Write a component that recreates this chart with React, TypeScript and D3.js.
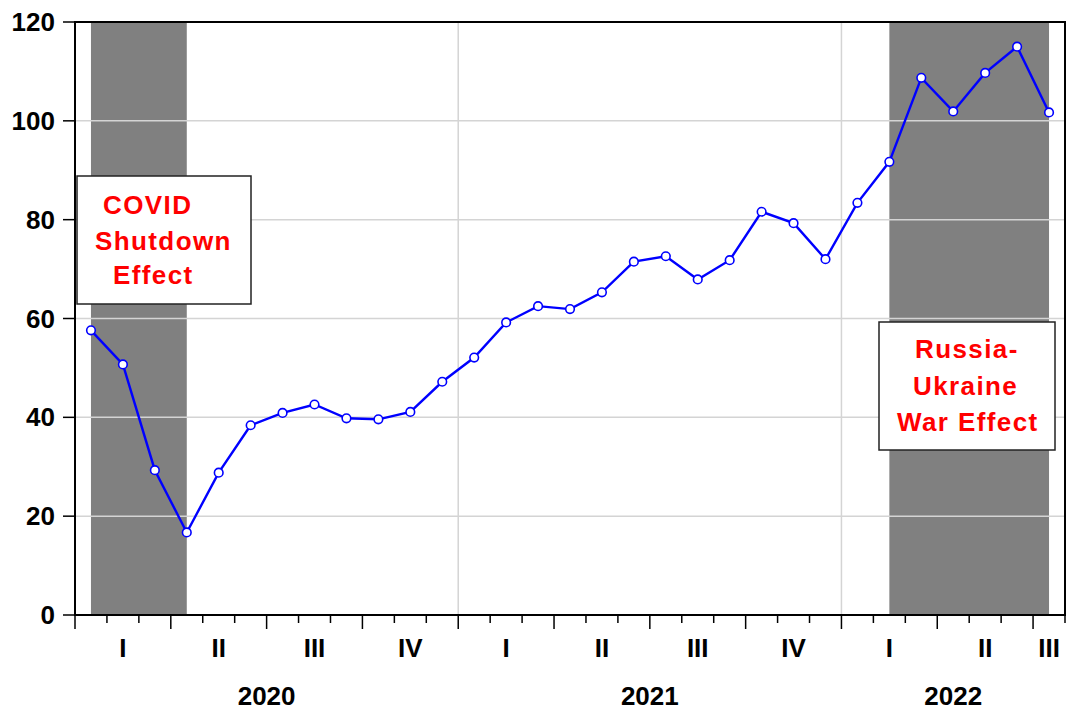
import React from "react";
import * as d3 from "d3";

// Monthly series, Jan 2020 .. Jul 2022
const months: string[] = [
  "2020-01","2020-02","2020-03","2020-04","2020-05","2020-06","2020-07","2020-08","2020-09","2020-10","2020-11","2020-12",
  "2021-01","2021-02","2021-03","2021-04","2021-05","2021-06","2021-07","2021-08","2021-09","2021-10","2021-11","2021-12",
  "2022-01","2022-02","2022-03","2022-04","2022-05","2022-06","2022-07",
];
const values: number[] = [
  57.6, 50.7, 29.3, 16.7, 28.8, 38.4, 40.9, 42.6, 39.8, 39.6, 41.1, 47.2,
  52.1, 59.2, 62.5, 61.9, 65.3, 71.5, 72.6, 67.9, 71.8, 81.6, 79.3, 72.0,
  83.4, 91.7, 108.7, 101.9, 109.7, 115.0, 101.7,
];
const yTicks: number[] = [0, 20, 40, 60, 80, 100, 120];
const years: string[] = ["2020", "2021", "2022"];
const quarterNames: string[] = ["I", "II", "III", "IV"];
// shaded periods, as month indexes (from point to point)
const shades: [number, number][] = [[0, 3], [25, 30]];
const covidLines: string[] = ["COVID", "Shutdown", "Effect"];
const warLines: string[] = ["Russia-", "Ukraine", "War Effect"];

const W = 1068, H = 713;
const L = 75, R = 1065, T = 22, B = 615;
const FONT = "'Liberation Sans', Arial, Helvetica, sans-serif";

export default function App() {
  const n = months.length;
  const x = d3.scaleLinear().domain([0, n]).range([L, R]);
  const y = d3.scaleLinear().domain([0, 120]).range([B, T]);
  const px = (i: number) => x(i + 0.5);

  const line = d3.line<number>().x((_, i) => px(i)).y((v) => y(v));

  // quarters present
  const quarters: { label: string; mid: number }[] = [];
  for (let s = 0; s < n; s += 3) {
    const e = Math.min(s + 3, n);
    quarters.push({ label: quarterNames[(s / 3) % 4], mid: (s + e) / 2 });
  }
  const yearMids = years.map((yr, k) => {
    const s = k * 12;
    const e = Math.min(s + 12, n);
    return { yr, mid: (s + e) / 2 };
  });

  const covidX = [103, 95, 113];
  const covidY = [214, 250, 284];
  const warX = [915, 913, 897];
  const warY = [358, 395, 431];

  return (
    <svg width={W} height={H} style={{ position: "absolute", left: 0, top: 0, background: "#fff" }}
      fontFamily={FONT}>
      <rect x={0} y={0} width={W} height={H} fill="#fff" />
      {shades.map(([a, b], i) => (
        <rect key={i} x={px(a)} y={T} width={px(b) - px(a)} height={B - T} fill="#808080" />
      ))}
      {yTicks.filter((t) => t > 0 && t < 120).map((t) => (
        <line key={t} x1={L} x2={R} y1={y(t)} y2={y(t)} stroke="#d4d4d4" strokeWidth={1.5} />
      ))}
      {[12, 24].map((m) => (
        <line key={m} x1={x(m)} x2={x(m)} y1={T} y2={B} stroke="#d4d4d4" strokeWidth={1.5} />
      ))}
      <rect x={L} y={T} width={R - L} height={B - T} fill="none" stroke="#000" strokeWidth={2} />
      {yTicks.map((t) => (
        <g key={t}>
          <line x1={L - 12} x2={L} y1={y(t)} y2={y(t)} stroke="#000" strokeWidth={1.5} />
          <text x={55} y={y(t) + 9} textAnchor="end" fontSize={26} fontWeight="bold">{t}</text>
        </g>
      ))}
      {d3.range(0, n + 1).map((m) => (
        <line key={m} x1={x(m)} x2={x(m)} y1={B} y2={m % 3 === 0 ? B + 14 : B + 8} stroke="#000" strokeWidth={1.5} />
      ))}
      {quarters.map((q, i) => (
        <text key={i} x={Math.min(x(q.mid), R - 10)} y={657} textAnchor="middle" fontSize={26} fontWeight="bold">{q.label}</text>
      ))}
      {yearMids.map((d) => (
        <text key={d.yr} x={x(d.mid)} y={705} textAnchor="middle" fontSize={26} fontWeight="bold">{d.yr}</text>
      ))}
      <path d={line(values) || ""} fill="none" stroke="#0000ff" strokeWidth={2.4} />
      {values.map((v, i) => (
        <circle key={i} cx={px(i)} cy={y(v)} r={4.3} fill="#fff" stroke="#0000ff" strokeWidth={1.6} />
      ))}
      <rect x={77} y={176} width={174} height={128} fill="#fff" stroke="#222" strokeWidth={1.5} />
      {covidLines.map((s, i) => (
        <text key={s} x={covidX[i]} y={covidY[i]} fontSize={26} fontWeight="bold" fill="#ff0000" letterSpacing={1.4}>{s}</text>
      ))}
      <rect x={879} y={322} width={176} height={128} fill="#fff" stroke="#222" strokeWidth={1.5} />
      {warLines.map((s, i) => (
        <text key={s} x={warX[i]} y={warY[i]} fontSize={26} fontWeight="bold" fill="#ff0000" letterSpacing={1.4}>{s}</text>
      ))}
    </svg>
  );
}
